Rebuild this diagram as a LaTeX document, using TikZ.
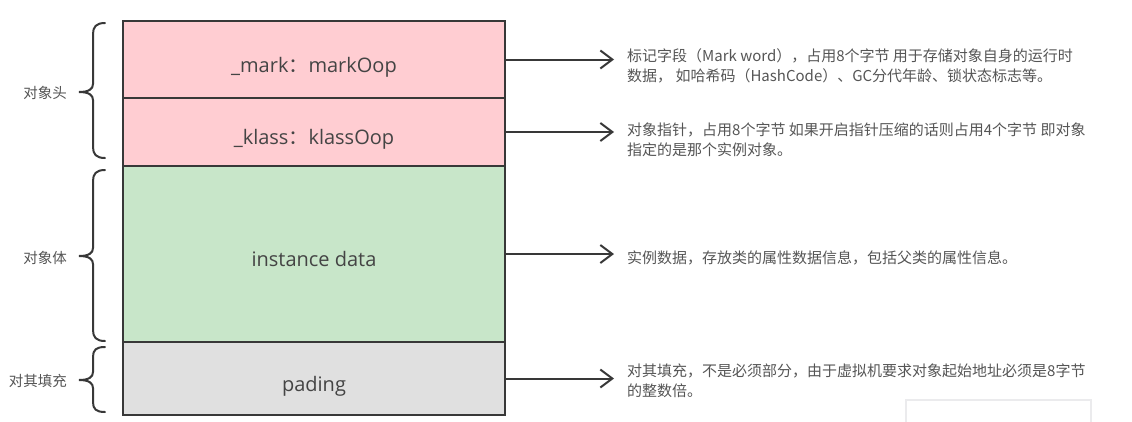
\documentclass[tikz,border=0pt]{standalone}
\usepackage{fontspec}
\usetikzlibrary{arrows.meta}
\newfontfamily\cjk{Noto Sans CJK SC}
\newfontfamily\osans{Open Sans}
\definecolor{pinkfill}{HTML}{FFCDD2}
\definecolor{greenfill}{HTML}{C8E6C9}
\definecolor{greyfill}{HTML}{E0E0E0}
\definecolor{edge}{HTML}{383838}
\definecolor{txt}{HTML}{444444}
\definecolor{desctxt}{HTML}{555555}
\definecolor{faint}{HTML}{EBEBED}
\tikzset{
  part/.style={draw=edge, line width=2pt, minimum width=382pt, inner sep=0pt, outer sep=0pt,
    text height=31pt, text depth=6pt,
    font=\osans\fontsize{20}{24}\selectfont, text=txt},
  desc/.style={anchor=west, inner sep=0pt, align=left, text=desctxt,
    font=\cjk\fontsize{15}{20}\selectfont},
  lab/.style={anchor=east, inner sep=0pt, text=desctxt, font=\cjk\fontsize{14.5}{18}\selectfont},
  arr/.style={draw=edge, line width=2pt, -{Straight Barb[length=12pt,width=18pt]}},
  curly/.style={draw=edge, line width=2pt, line cap=round}
}
\begin{document}
\begin{tikzpicture}[x=1pt,y=-1pt]
\useasboundingbox (0,0) rectangle (1132,421);
% stacked parts
\node[part, fill=pinkfill, minimum height=77pt] (mark) at (314,59.5) {\_mark{\cjk ：}markOop};
\node[part, fill=pinkfill, minimum height=68pt] (klass) at (314,132) {\_klass{\cjk ：}klassOop};
\node[part, fill=greenfill, minimum height=176pt] (inst) at (314,254) {instance data};
\node[part, fill=greyfill, minimum height=73pt] (pad) at (314,378.5) {pading};
% arrow tips x
\coordinate (tipx) at (614,0);
% descriptions
\node[desc] (d1) at (627,66) {标记字段（Mark word），占用8个字节 用于存储对象自身的运行时\\数据， 如哈希码（HashCode）、GC分代年龄、锁状态标志等。};
\node[desc] (d2) at (627,140) {对象指针，占用8个字节 如果开启指针压缩的话则占用4个字节 即对象\\指定的是那个实例对象。};
\node[desc] (d3) at (627,258) {实例数据，存放类的属性数据信息，包括父类的属性信息。};
\node[desc] (d4) at (627,381) {对其填充，不是必须部分，由于虚拟机要求对象起始地址必须是8字节\\的整数倍。};
% arrows
\draw[arr] (mark.east) -- (mark.east -| tipx);
\draw[arr] (klass.east) -- (klass.east -| tipx);
\draw[arr] (inst.east) -- (inst.east -| tipx);
\draw[arr] (pad.east) -- (pad.east -| tipx);
% braces
\draw[curly] (105,23) .. controls (96,23) and (93,27) .. (93,34) -- (93,84)
  .. controls (93,89) and (89,92) .. (79,92) .. controls (89,92) and (93,95) .. (93,100)
  -- (93,147) .. controls (93,154) and (96,158) .. (105,158);
\draw[curly] (105,170) .. controls (96,170) and (93,174) .. (93,181) -- (93,248)
  .. controls (93,253) and (89,256) .. (79,256) .. controls (89,256) and (93,259) .. (93,264)
  -- (93,330) .. controls (93,337) and (96,341) .. (105,341);
\draw[curly] (105,347) .. controls (96,347) and (93,350) .. (93,357) -- (93,372)
  .. controls (93,377) and (89,380) .. (79,380) .. controls (89,380) and (93,383) .. (93,388)
  -- (93,402) .. controls (93,409) and (96,412) .. (105,412);
% labels
\node[lab] (l1) at (67,93) {对象头};
\node[lab] (l2) at (67,258) {对象体};
\node[lab] (l3) at (67,381) {对其填充};
% faint frame at the bottom right
\draw[faint, line width=2.5pt] (906,423) -- (906,400) -- (1091,400) -- (1091,423);
\end{tikzpicture}
\end{document}
